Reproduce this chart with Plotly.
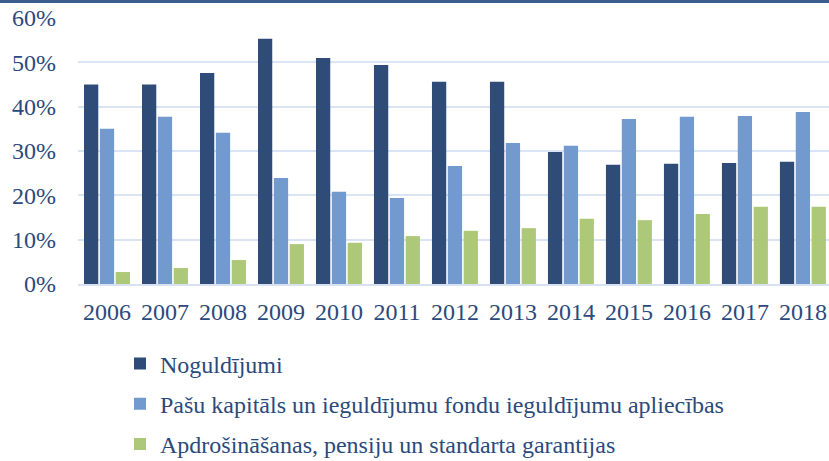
import plotly.graph_objects as go

years = ["2006", "2007", "2008", "2009", "2010", "2011", "2012",
         "2013", "2014", "2015", "2016", "2017", "2018"]
noguldijumi = [45.0, 45.0, 47.6, 55.3, 51.0, 49.4, 45.6, 45.6, 29.8, 26.9, 27.1, 27.3, 27.6]
pasu_kapitals = [35.0, 37.7, 34.1, 23.9, 20.8, 19.4, 26.6, 31.8, 31.2, 37.2, 37.7, 37.9, 38.8]
apdrosinasanas = [2.7, 3.6, 5.4, 9.0, 9.3, 10.8, 12.0, 12.6, 14.7, 14.4, 15.8, 17.4, 17.4]

names = ["Noguldījumi",
         "Pašu kapitāls un ieguldījumu fondu ieguldījumu apliecības",
         "Apdrošināšanas, pensiju un standarta garantijas"]
colors = ["#2f4c79", "#729acf", "#aec879"]
series = [noguldijumi, pasu_kapitals, apdrosinasanas]

font_family = "Liberation Serif, Times New Roman, serif"
text_color = "#2b4a7c"

fig = go.Figure()
for i, (nm, vals, col) in enumerate(zip(names, series, colors)):
    fig.add_trace(go.Bar(
        x=years, y=vals, name=nm, marker=dict(color=col, line=dict(width=0)),
        legendgroup=f"g{i}", hoverinfo="x+y+name"))

fig.update_layout(
    width=829, height=461,
    margin=dict(l=78, r=0, t=18, b=177, autoexpand=False),
    paper_bgcolor="white", plot_bgcolor="white",
    barmode="group", bargap=0.18, bargroupgap=0.1,
    font=dict(family=font_family, color=text_color, size=24),
    showlegend=True,
    legend=dict(
        orientation="v", x=(120 - 78) / 751, xanchor="left",
        y=-0.216, yanchor="top",
        font=dict(family=font_family, size=24, color=text_color),
        tracegroupgap=6, itemwidth=30, bgcolor="rgba(0,0,0,0)",
        traceorder="grouped"),
    xaxis=dict(
        type="category", range=[-0.5, 12.45], showgrid=False, automargin=False,
        showline=True, linecolor="#d6e1f2", linewidth=2,
        ticks="", tickfont=dict(size=24, color=text_color), ticklabelstandoff=5),
    yaxis=dict(
        range=[0, 60], tickvals=[0, 10, 20, 30, 40, 50, 60], automargin=False,
        ticktext=["0%", "10%", "20%", "30%", "40%", "50%", "60%"],
        showgrid=True, gridcolor="#d9e4f4", gridwidth=2,
        zeroline=False, showline=False, ticks="",
        tickfont=dict(size=24, color=text_color), ticklabelstandoff=21),
    shapes=[dict(type="rect", xref="paper", yref="paper",
                 xsizemode="pixel", ysizemode="pixel",
                 xanchor=0, yanchor=1,
                 x0=-78, x1=760, y0=15, y1=18,
                 fillcolor="#3b5e8f", line=dict(width=0), layer="above")],
)

fig.write_html("out.html", config={"displayModeBar": False},
               post_script="document.body.style.margin='0';")
